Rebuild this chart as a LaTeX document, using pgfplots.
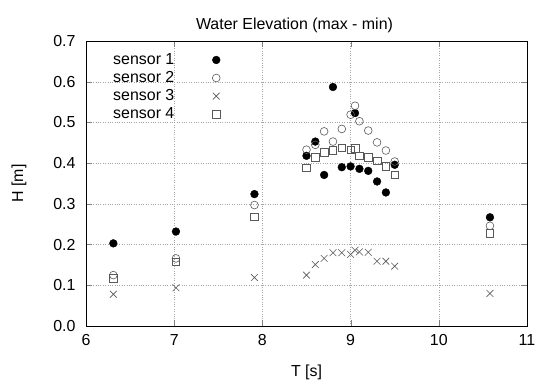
\documentclass[border=0pt]{standalone}
\usepackage{pgfplots}
\pgfplotsset{compat=1.18}
\usepackage{fontspec}
\setmainfont{Liberation Sans}
\begin{document}
\begin{tikzpicture}
\path[use as bounding box] (0,0) rectangle (548bp,385bp);
\begin{axis}[
  at={(86bp,59bp)}, anchor=south west,
  scale only axis, width=441bp, height=285bp,
  xmin=6, xmax=11, ymin=0, ymax=0.7,
  xtick={6,7,8,9,10,11}, ytick={0,0.1,...,0.7},
  font=\fontsize{16}{19}\selectfont,
  /pgf/number format/assume math mode=true,
  yticklabel style={/pgf/number format/.cd, fixed, fixed zerofill, precision=1, /tikz/.cd, xshift=-7bp},
  xticklabel style={yshift=-5bp},
  tick align=inside, tick pos=both, major tick length=6bp,
  grid=major, major grid style={dotted, gray!70},
  axis line style={black, line width=0.6pt},
  title={Water Elevation (max - min)},
  title style={yshift=-1bp, xshift=-12bp},
  xlabel={T [s]}, ylabel={H [m]},
  xlabel style={yshift=-12bp},
  ylabel style={yshift=20bp},
  legend plot pos=right,
  legend cell align=left,
  legend style={draw=none, fill=none, at={(0.05,0.97)}, anchor=north west,
    row sep=1.5bp, column sep=36bp},
]
\addplot[only marks, mark=*, mark size=3.9bp, black] coordinates {
(6.31,0.203) (7.02,0.232) (7.91,0.324)
(8.5,0.418) (8.6,0.453) (8.7,0.371) (8.8,0.587) (8.9,0.390) (9.0,0.392)
(9.05,0.523) (9.1,0.386) (9.2,0.381) (9.3,0.355) (9.4,0.328) (9.5,0.396)
(10.58,0.267)};
\addlegendentry{sensor 1}
\addplot[only marks, mark=o, mark size=3.9bp, gray!70!black, semithick] coordinates {
(6.31,0.125) (7.02,0.166) (7.91,0.297)
(8.5,0.433) (8.6,0.445) (8.7,0.478) (8.8,0.453) (8.9,0.484) (9.0,0.519)
(9.05,0.541) (9.1,0.503) (9.2,0.480) (9.3,0.451) (9.4,0.431) (9.5,0.404)
(10.58,0.246)};
\addlegendentry{sensor 2}
\addplot[only marks, mark=x, mark size=4.8bp, gray!70!black, semithick] coordinates {
(6.31,0.078) (7.02,0.094) (7.91,0.119)
(8.5,0.125) (8.6,0.151) (8.7,0.166) (8.8,0.180) (8.9,0.180) (9.0,0.176)
(9.05,0.186) (9.1,0.182) (9.2,0.181) (9.3,0.159) (9.4,0.159) (9.5,0.147)
(10.58,0.080)};
\addlegendentry{sensor 3}
\addplot[only marks, mark=square, mark size=3.8bp, gray!70!black, semithick] coordinates {
(6.31,0.117) (7.02,0.158) (7.91,0.268)
(8.5,0.389) (8.6,0.415) (8.7,0.426) (8.8,0.431) (8.9,0.438) (9.0,0.433)
(9.05,0.437) (9.1,0.418) (9.2,0.415) (9.3,0.406) (9.4,0.392) (9.5,0.371)
(10.58,0.228)};
\addlegendentry{sensor 4}
\end{axis}
\end{tikzpicture}
\end{document}
